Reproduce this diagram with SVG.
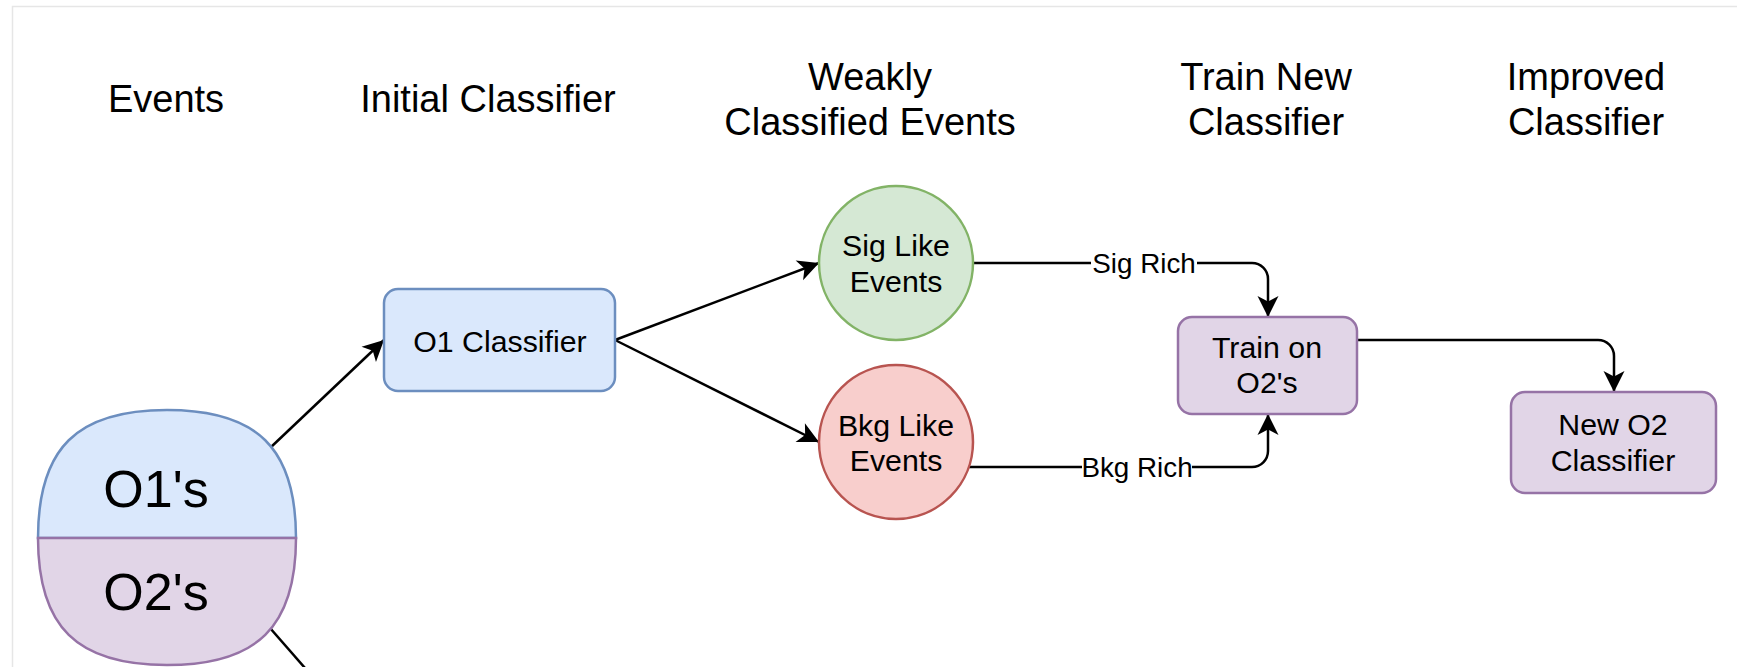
<svg xmlns="http://www.w3.org/2000/svg" width="1737" height="667" viewBox="0 0 1737 667">
  <style>
    text { font-family: "Liberation Sans", Arial, sans-serif; fill: #000; text-anchor: middle; }
    .title { font-size: 38px; }
    .node { font-size: 30.3px; }
    .big { font-size: 52px; }
    .elabel { font-size: 27.8px; }
    .edge { fill: none; stroke: #000; stroke-width: 2.5; marker-end: url(#arrow); }
    .plain { fill: none; stroke: #000; stroke-width: 2.5; }
    .blue { fill: #dae8fc; stroke: #6c8ebf; stroke-width: 2.5; }
    .purple { fill: #e1d5e7; stroke: #9673a6; stroke-width: 2.5; }
    .green { fill: #d5e8d4; stroke: #82b366; stroke-width: 2.5; }
    .red { fill: #f8cecc; stroke: #b85450; stroke-width: 2.5; }
  </style>
  <defs>
    <marker id="arrow" markerUnits="userSpaceOnUse" orient="auto" overflow="visible" refX="0" refY="0" markerWidth="1" markerHeight="1">
      <path d="M0,0 L-21,-10.5 L-15.5,0 L-21,10.5 Z" fill="#000" stroke="none"/>
    </marker>
  </defs>

  <rect width="1737" height="667" fill="#fff"/>
  <!-- page frame -->
  <path d="M12.5,667 V6.5 H1737" fill="none" stroke="#e6e6e6" stroke-width="1.5"/>

  <!-- column headings -->
  <g id="headings">
    <text class="title" x="166" y="112">Events</text>
    <text class="title" x="488" y="112">Initial Classifier</text>
    <text class="title" x="870" y="90">Weakly</text>
    <text class="title" x="870" y="135">Classified Events</text>
    <text class="title" x="1266" y="90">Train New</text>
    <text class="title" x="1266" y="135">Classifier</text>
    <text class="title" x="1586" y="90">Improved</text>
    <text class="title" x="1586" y="135">Classifier</text>
  </g>

  <!-- connectors -->
  <g id="connectors">
    <path class="edge" d="M270,448 L384,340"/>
    <path class="plain" d="M270,628 L312,676"/>
    <path class="edge" d="M615,340 L819,263"/>
    <path class="edge" d="M615,340 L819,442"/>
    <path class="edge" d="M973,263 H1252 A16,16 0 0 1 1268,279 V317"/>
    <path class="edge" d="M969,467 H1252 A16,16 0 0 0 1268,451 V414"/>
    <path class="edge" d="M1357,340 H1598 A16,16 0 0 1 1614,356 V392"/>
    <rect x="1091" y="249" width="106" height="30" fill="#fff"/>
    <text class="elabel" x="1144" y="273">Sig Rich</text>
    <rect x="1082" y="453" width="110" height="30" fill="#fff"/>
    <text class="elabel" x="1137" y="477">Bkg Rich</text>
  </g>

  <!-- event sample split into O1 and O2 halves -->
  <g id="events">
    <path class="blue" d="M38,538 C38,448 77,410 167,410 C257,410 296,448 296,538 Z"/>
    <path class="purple" d="M38,538 C38,627 77,665 167,665 C257,665 296,627 296,538 Z"/>
    <text class="big" x="156" y="507">O1's</text>
    <text class="big" x="156" y="610">O2's</text>
  </g>

  <g id="o1-classifier">
    <rect class="blue" x="384" y="289" width="231" height="102" rx="14"/>
    <text class="node" x="500" y="352">O1 Classifier</text>
  </g>

  <g id="sig-like">
    <circle class="green" cx="896" cy="263" r="77"/>
    <text class="node" x="896" y="256">Sig Like</text>
    <text class="node" x="896" y="292">Events</text>
  </g>

  <g id="bkg-like">
    <circle class="red" cx="896" cy="442" r="77"/>
    <text class="node" x="896" y="436">Bkg Like</text>
    <text class="node" x="896" y="471">Events</text>
  </g>

  <g id="train-o2">
    <rect class="purple" x="1178" y="317" width="179" height="97" rx="14"/>
    <text class="node" x="1267" y="358">Train on</text>
    <text class="node" x="1267" y="393">O2's</text>
  </g>

  <g id="new-o2-classifier">
    <rect class="purple" x="1511" y="392" width="205" height="101" rx="14"/>
    <text class="node" x="1613" y="435">New O2</text>
    <text class="node" x="1613" y="471">Classifier</text>
  </g>
</svg>
